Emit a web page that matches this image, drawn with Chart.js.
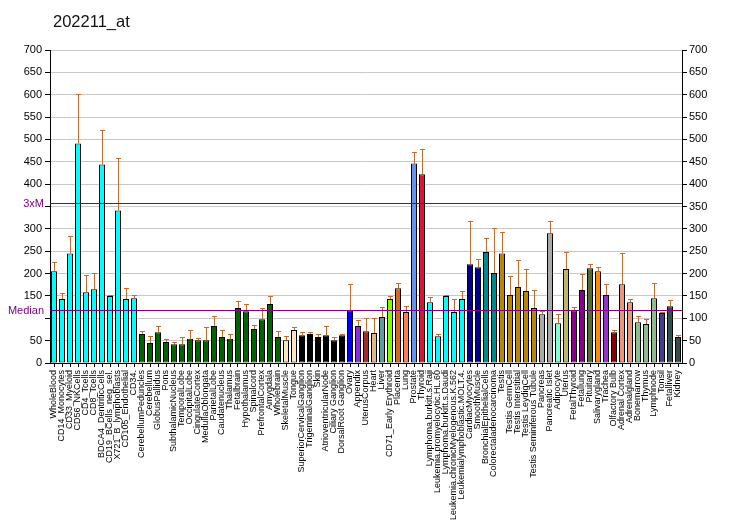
<!DOCTYPE html>
<html>
<head>
<meta charset="utf-8">
<script src="https://cdn.jsdelivr.net/npm/chart.js@4.4.1/dist/chart.umd.min.js"></script>
<style>
  html, body { margin: 0; padding: 0; background: #fff; }
  #wrap { position: relative; width: 732px; height: 530px; }
  #title { position: absolute; left: 53px; top: 12px; font-family: "Liberation Sans", Arial, sans-serif; font-size: 16.5px; color: #111; }
  canvas { position: absolute; left: 0; top: 0; }
</style>
</head>
<body>
<div id="wrap">
  <canvas id="c" width="732" height="530"></canvas>
  <div id="title">202211_at</div>
</div>
<script>
const categories = [
  "WholeBlood","CD14_Monocytes","CD33_Myeloid","CD56_NKCells","CD4_Tcells","CD8_Tcells",
  "BDCA4_DentriticCells","CD19_BCells_neg_sel.","X721_B_lymphoblasts","CD105_Endothelial","CD34.",
  "CerebellumPeduncles","Cerebellum","GlobusPallidus","Pons","SubthalamicNucleus","TemporalLobe",
  "OccipitalLobe","CingulateCortex","MedullaOblongata","ParietalLobe","Caudatenucleus","Thalamus",
  "Fetalbrain","Hypothalamus","Spinalcord","PrefrontalCortex","Amygdala","Wholebrain",
  "SkeletalMuscle","Tongue","SuperiorCervicalGanglion","TrigeminalGanglion","Skin",
  "AtrioventricularNode","Ciliary Ganglion","DorsalRoot Ganglion","Ovary","Appendix","UterusCorpus",
  "Heart","Liver","CD71_Early Erythroid","Placenta","Lung","Prostate","Thyroid",
  "Lymphoma.burkitt.s.Raji","Leukemia.promyelocytic.HL.60","Lymphoma.burkitt.s.Daudi",
  "Leukemia.chronicMyelogenous.K.562","Leukemialymphoblastic.MOLT.4.","CardiacMyocytes",
  "SmoothMuscle","BronchialEpithelialCells","Colorectaladenocarcinoma","Testis",
  "Testis GermCell","Testis Interstitial","Testis LeydigCell","Testis Seminiferous Tubule",
  "Pancreas","Pancreatic Islet","Adipocyte","Uterus","FetalThyroid","Fetallung","Pituitary",
  "Salivarygland","Trachea","Olfactory Bulb","Adrenal Cortex","Adrenalgland","Bonemarrow",
  "Thymus","Lymphnode","Tonsil","Fetalliver","Kidney"
];

const values = [
  205,143,245,491,158,165,444,150,341,143,145,
  65,45,69,47,42,42,54,51,51,83,58,54,123,116,76,98,132,58,
  51,74,
  62,65,58,62,51,62,
  118,83,71,67,103,143,167,114,446,422,
  136,60,150,114,143,
  221,214,248,201,
  245,152,170,161,123,
  109,290,
  89,210,118,163,212,205,152,69,176,136,91,87,145,112,127,58
];

const errorTops = [
  225,156,283,602,196,201,520,152,458,167,152,
  71,60,83,54,47,58,74,56,80,105,74,65,138,132,85,123,150,71,
  60,80,
  69,69,65,83,58,65,
  176,96,100,100,125,150,179,127,471,478,
  147,65,152,143,161,
  317,232,279,301,
  292,194,230,210,163,
  116,317,
  109,248,125,199,221,214,176,74,246,143,105,98,179,114,141,63
];

const barColors = [
  "#00FFFF","#00FFFF","#00FFFF","#00FFFF","#00FFFF","#00FFFF","#00FFFF","#00FFFF","#00FFFF","#00FFFF","#00FFFF",
  "#006400","#006400","#006400","#006400","#006400","#006400","#006400","#006400","#006400",
  "#006400","#006400","#006400","#006400","#006400","#006400","#006400","#006400","#006400",
  "#FFE4C4","#FFE4C4",
  "#000000","#000000","#000000","#000000","#000000","#000000",
  "#0000FF","#8A2BE2","#A52A2A","#DEB887","#5F9EA0","#7FFF00","#D2691E","#FF7F50","#6495ED","#DC143C",
  "#00FFFF","#00FFFF","#00FFFF","#00FFFF","#00FFFF",
  "#00008B","#00008B","#008B8B","#008B8B",
  "#B8860B","#B8860B","#B8860B","#B8860B","#B8860B",
  "#A9A9A9","#A9A9A9",
  "#7FFFD4","#BDB76B","#8B008B","#8B008B","#556B2F","#FF8C00","#9932CC","#8B0000",
  "#E9967A","#E9967A","#8FBC8F","#8FBC8F","#8FBC8F","#483D8B","#2F4F4F","#2F4F4F"
];

const medianValue = 119;
const threeXM = 357;
const refLines = [
  { value: threeXM, label: "3xM" },
  { value: medianValue, label: "Median" }
];

const yMin = 0, yMax = 700, yStep = 50;
const FONT = '"Liberation Sans", Arial, sans-serif';

const errorBarPlugin = {
  id: 'errorBars',
  afterDatasetsDraw(chart) {
    const ctx = chart.ctx;
    const meta = chart.getDatasetMeta(0);
    const y = chart.scales.y;
    ctx.save();
    ctx.strokeStyle = '#C8692D';
    ctx.lineWidth = 1;
    meta.data.forEach((bar, i) => {
      const top = errorTops[i];
      if (top == null || top <= values[i]) return;
      const x = Math.round(bar.x) + 0.5;
      const yt = Math.round(y.getPixelForValue(top)) + 0.5;
      const yb = y.getPixelForValue(values[i]);
      ctx.beginPath();
      ctx.moveTo(x, yb);
      ctx.lineTo(x, yt);
      ctx.moveTo(x - 2.5, yt);
      ctx.lineTo(x + 2.5, yt);
      ctx.stroke();
    });
    ctx.restore();
  }
};

const refLinePlugin = {
  id: 'refLines',
  afterDatasetsDraw(chart) {
    const ctx = chart.ctx;
    const { left, right } = chart.chartArea;
    const y = chart.scales.y;
    ctx.save();
    ctx.strokeStyle = '#800080';
    ctx.fillStyle = '#800080';
    ctx.lineWidth = 1;
    ctx.font = '11px ' + FONT;
    ctx.textAlign = 'right';
    ctx.textBaseline = 'middle';
    refLines.forEach(r => {
      const py = Math.round(y.getPixelForValue(r.value)) + 0.5;
      ctx.beginPath();
      ctx.moveTo(left, py);
      ctx.lineTo(right, py);
      ctx.stroke();
      ctx.fillText(r.label, left - 6, py);
    });
    ctx.restore();
  }
};

new Chart(document.getElementById('c'), {
  type: 'bar',
  data: {
    labels: categories,
    datasets: [{
      data: values,
      backgroundColor: barColors,
      borderColor: '#000000',
      borderWidth: 1,
      borderSkipped: false,
      barPercentage: 0.75,
      categoryPercentage: 1.0
    }]
  },
  options: {
    responsive: false,
    animation: false,
    devicePixelRatio: 1,
    layout: { padding: { top: 50, left: 0, right: 0, bottom: 0 } },
    plugins: {
      legend: { display: false },
      title: { display: false },
      tooltip: { enabled: false }
    },
    scales: {
      x: {
        type: 'category',
        offset: true,
        grid: { display: true, drawOnChartArea: false, offset: false, drawTicks: true, tickLength: 4, tickColor: '#000', color: '#000' },
        border: { display: true, color: '#000', width: 1 },
        ticks: {
          autoSkip: false, maxRotation: 90, minRotation: 90, padding: 3,
          font: { family: FONT, size: 9 }, color: '#000'
        },
        afterFit: s => { s.height = 167; }
      },
      y: {
        position: 'left',
        min: yMin, max: yMax,
        grid: { color: '#C8C8C8', lineWidth: 1, drawTicks: true, tickLength: 5, tickColor: '#000' },
        border: { display: true, color: '#000', width: 1 },
        ticks: {
          stepSize: yStep, padding: 3, color: '#000',
          font: { family: FONT, size: 11 },
          callback: v => refLines.some(r => Math.abs(r.value - v) < 25) ? '' : v
        },
        afterFit: s => { s.width = 50; }
      },
      y2: {
        position: 'right',
        display: true,
        min: yMin, max: yMax,
        grid: { drawOnChartArea: false, drawTicks: true, tickLength: 5, tickColor: '#000' },
        border: { display: true, color: '#000', width: 1 },
        ticks: { stepSize: yStep, padding: 2, color: '#000', font: { family: FONT, size: 11 } },
        afterFit: s => { s.width = 50; }
      }
    }
  },
  plugins: [errorBarPlugin, refLinePlugin]
});
</script>
</body>
</html>
